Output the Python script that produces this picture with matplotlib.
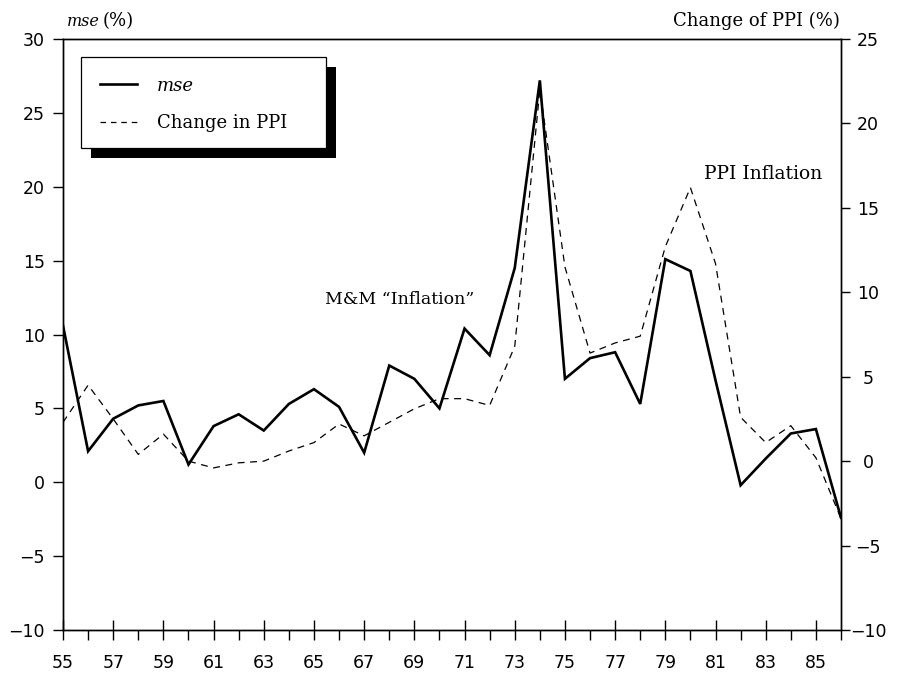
import matplotlib
matplotlib.use("Agg")
import matplotlib.pyplot as plt
from matplotlib.patches import Rectangle
from matplotlib.lines import Line2D
from matplotlib.ticker import MultipleLocator, FixedLocator

years = list(range(55, 87))
mse = [10.6, 2.1, 4.3, 5.2, 5.5, 1.2, 3.8, 4.6, 3.5, 5.3, 6.3, 5.1, 2.0, 7.9, 7.0, 5.0,
       10.4, 8.6, 14.5, 27.2, 7.0, 8.4, 8.8, 5.3, 15.1, 14.3, 6.9, -0.2, 1.6, 3.3, 3.6, -2.4]
ppi = [2.3, 4.5, 2.5, 0.4, 1.6, 0.0, -0.4, -0.1, 0.0, 0.6, 1.1, 2.2, 1.5, 2.3, 3.1, 3.7,
       3.7, 3.3, 6.8, 22.0, 11.5, 6.4, 7.0, 7.4, 12.7, 16.2, 11.7, 2.6, 1.1, 2.1, 0.2, -3.4]
major_years = list(range(55, 87, 2))
minor_years = list(range(56, 87, 2))

W, H = 897, 680
plt.rcParams['lines.scale_dashes'] = False
fig = plt.figure(figsize=(W / 100, H / 100), dpi=100)
ax = fig.add_axes([63 / W, 50 / H, 778 / W, 591 / H])
ax2 = ax.twinx()

serif = 'DejaVu Serif'
sans = 'DejaVu Sans'
tick_fs = 12.5
txt_fs = 13

ax.plot(years, mse, color='black', lw=1.9, solid_joinstyle='miter')
ax2.plot(years, ppi, color='black', lw=0.9, dashes=(5, 4))

ax.set_xlim(55, 86)
ax.set_ylim(-10, 30)
ax2.set_ylim(-10, 25)

ax.xaxis.set_major_locator(FixedLocator(major_years))
ax.xaxis.set_minor_locator(FixedLocator(minor_years))
ax.set_xticklabels([str(y) for y in major_years])
ax.yaxis.set_major_locator(MultipleLocator(5))
ax2.yaxis.set_major_locator(MultipleLocator(5))

for a in (ax, ax2):
    for s in a.spines.values():
        s.set_linewidth(1.0)
        s.set_color('black')

ax.tick_params(axis='x', which='major', direction='inout', length=14.4, width=1.0, pad=10,
               labelsize=tick_fs, top=False)
ax.tick_params(axis='x', which='minor', direction='out', length=7.2, width=1.0, top=False)
ax.tick_params(axis='y', which='major', direction='out', length=7.2, width=1.0, pad=6,
               labelsize=tick_fs)
ax2.tick_params(axis='y', which='major', direction='out', length=6.5, width=1.0, pad=13,
                labelsize=tick_fs)
for lab in ax.get_xticklabels() + ax.get_yticklabels() + ax2.get_yticklabels():
    lab.set_family(sans)
for lab in ax2.get_yticklabels():
    lab.set_ha('center')

fx = lambda x: x / W
fy = lambda y: 1 - y / H

# axis titles
fig.text(fx(67), fy(21), 'mse', family=serif, style='italic', fontsize=11.5, va='center')
fig.text(fx(103), fy(21), '(%)', family=serif, fontsize=txt_fs, va='center')
fig.text(fx(840), fy(21), 'Change of PPI (%)', family=serif, fontsize=txt_fs, va='center', ha='right')

# annotations
fig.text(fx(704), fy(174), 'PPI Inflation', family=serif, fontsize=txt_fs + 0.5, va='center')
fig.text(fx(325), fy(300), 'M&M \u201cInflation\u201d', family=serif, fontsize=txt_fs - 0.5, va='center')

# legend with solid shadow
fig.add_artist(Rectangle((fx(91), fy(158)), (336 - 91) / W, (158 - 67) / H,
                         transform=fig.transFigure, facecolor='black', edgecolor='black',
                         lw=0, zorder=5))
fig.add_artist(Rectangle((fx(81), fy(148)), (326 - 81) / W, (148 - 57) / H,
                         transform=fig.transFigure, facecolor='white', edgecolor='black',
                         lw=0.9, zorder=6))
fig.add_artist(Line2D([fx(100), fx(137)], [fy(84), fy(84)], transform=fig.transFigure,
                      color='black', lw=1.9, zorder=7))
fig.add_artist(Line2D([fx(100), fx(137)], [fy(122), fy(122)], transform=fig.transFigure,
                      color='black', lw=0.9, dashes=(4, 3.5), zorder=7))
fig.text(fx(157), fy(86), 'mse', family=serif, style='italic', fontsize=txt_fs, va='center', zorder=8)
fig.text(fx(157), fy(123), 'Change in PPI', family=serif, fontsize=txt_fs, va='center', zorder=8)

fig.savefig('out.png', dpi=100)
